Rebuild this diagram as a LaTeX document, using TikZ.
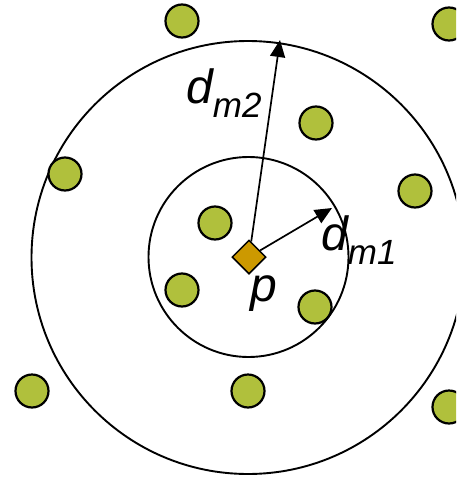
\documentclass[tikz,border=0pt]{standalone}
\usepackage{fontspec}
\setmainfont{Liberation Sans}
\usetikzlibrary{shapes.geometric,arrows.meta}
\definecolor{dotgreen}{RGB}{176,192,60}
\definecolor{pgold}{RGB}{204,153,0}
\tikzset{
  pt/.style={circle,draw=black,line width=2.2pt,fill=dotgreen,minimum size=33pt,inner sep=0pt},
  ring/.style={draw=black,line width=1.9pt},
  ray/.style={line width=1.7pt,-{Triangle[length=17pt,width=15pt]}},
  lbl/.style={inner sep=0pt,anchor=base west,font=\fontsize{48}{48}\selectfont\itshape},
}
\newcommand{\subtxt}[1]{\raisebox{-14pt}{\fontsize{35}{35}\selectfont #1}}
\begin{document}
\begin{tikzpicture}[x=1pt,y=-1pt]
\useasboundingbox (0,0) rectangle (456,477);
\clip (0,0) rectangle (456,477);
\draw[ring] (248,257.5) circle[radius=216.5];
\draw[ring] (248.5,257) circle[radius=100];
\node[pt] (q1) at (182,21) {};
\node[pt] (q2) at (449,24) {};
\node[pt] (q3) at (316,123) {};
\node[pt] (q4) at (65,174) {};
\node[pt] (q5) at (415,191) {};
\node[pt] (q6) at (215,223) {};
\node[pt] (q7) at (182,290) {};
\node[pt] (q8) at (315,307) {};
\node[pt] (q9) at (32,391) {};
\node[pt] (q10) at (248,391) {};
\node[pt] (q11) at (449,407) {};
\node[diamond,draw=black,line width=1.5pt,fill=pgold,minimum width=34pt,minimum height=34pt,inner sep=0pt] (p) at (249,257) {};
\coordinate (t1) at (332,208);
\coordinate (t2) at (280,40);
\draw[ray] (p) -- (t1);
\draw[ray] (p) -- (t2);
\node[lbl] (l2) at (186,103) {d\subtxt{m2}};
\node[lbl] (l1) at (321,250) {d\subtxt{m1}};
\node[lbl] (lp) at (250,301) {p};
\end{tikzpicture}
\end{document}
